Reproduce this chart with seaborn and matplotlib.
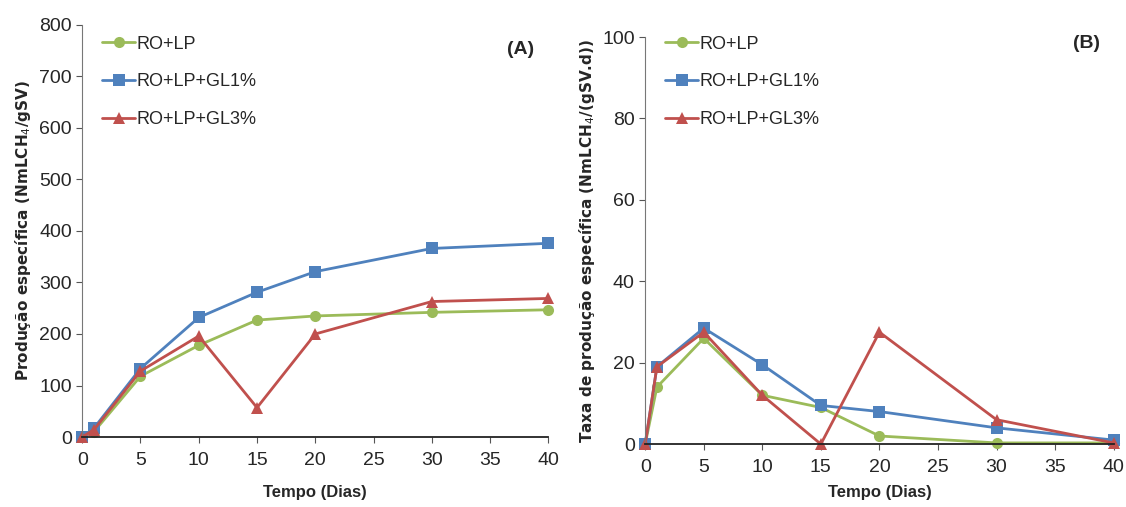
import matplotlib
matplotlib.use("Agg")
import matplotlib.pyplot as plt
import pandas as pd
import seaborn as sns

# dados
dias = [0, 1, 5, 10, 15, 20, 30, 40]
series = ["RO+LP", "RO+LP+GL1%", "RO+LP+GL3%"]

prod_ro_lp = [0, 10, 118, 178, 227, 235, 242, 247]
prod_gl1 = [0, 17, 133, 232, 281, 321, 366, 376]
prod_gl3 = [0, 14, 128, 196, 57, 200, 263, 269]

taxa_ro_lp = [0, 14, 26, 12, 9, 2, 0.3, 0.3]
taxa_gl1 = [0, 19, 28.5, 19.5, 9.5, 8, 4, 1]
taxa_gl3 = [0, 19, 27.5, 12, 0, 27.5, 6, 0.3]

cores = {"RO+LP": "#9BBB59", "RO+LP+GL1%": "#4F81BD", "RO+LP+GL3%": "#C0504D"}
marcadores = {"RO+LP": "o", "RO+LP+GL1%": "s", "RO+LP+GL3%": "^"}


def to_long(valores):
    frames = []
    for nome, vals in zip(series, valores):
        frames.append(pd.DataFrame({"dia": dias, "valor": vals, "serie": nome}))
    return pd.concat(frames, ignore_index=True)


df_a = to_long([prod_ro_lp, prod_gl1, prod_gl3])
df_b = to_long([taxa_ro_lp, taxa_gl1, taxa_gl3])

sns.set_style("white")
plt.rcParams["font.family"] = ["Liberation Sans", "DejaVu Sans"]

fig = plt.figure(figsize=(11.26, 5.07), dpi=100)
ax_a = fig.add_axes([0.073, 0.138, 0.414, 0.813])
ax_b = fig.add_axes([0.573, 0.124, 0.416, 0.803])


def desenha(ax, df, ymax, ystep, ylabel, tag, tag_y, leg_y, xpad):
    sns.lineplot(data=df, x="dia", y="valor", hue="serie", style="serie",
                 palette=cores, markers=marcadores, dashes=False,
                 markersize=8, linewidth=2, markeredgewidth=0, ax=ax)
    for ln in ax.lines:
        ln.set_clip_on(False)
    ax.set_xlim(0, 40)
    ax.set_ylim(0, ymax)
    ax.set_xticks(range(0, 41, 5))
    ax.set_yticks(range(0, ymax + 1, ystep))
    ax.tick_params(axis="both", labelsize=14, length=4, direction="out",
                   left=True, bottom=True, color="#555555")
    ax.tick_params(axis="x", pad=7)
    for s in ["top", "right"]:
        ax.spines[s].set_visible(False)
    ax.spines["left"].set_color("#777777")
    ax.spines["bottom"].set_color("#222222")
    ax.spines["bottom"].set_linewidth(1.3)
    ax.set_xlabel("Tempo (Dias)", fontsize=12, fontweight="bold", labelpad=xpad)
    ax.set_ylabel(ylabel, fontsize=11, fontweight="bold", family=["DejaVu Sans"])
    ax.text(0.97, tag_y, tag, transform=ax.transAxes, fontsize=14,
            fontweight="bold", ha="right", va="center")
    leg = ax.legend(loc="upper left", frameon=False, fontsize=13,
                    labelspacing=1.15, handlelength=1.8, handletextpad=0.1,
                    borderaxespad=0.2, bbox_to_anchor=(0.02, leg_y))
    for h in leg.legend_handles:
        h.set_markersize(8)


desenha(ax_a, df_a, 800, 100, "Produção específica (NmLCH$_4$/gSV)", "(A)", 0.94, 1.0, 11)
desenha(ax_b, df_b, 100, 20, "Taxa de produção específica (NmLCH$_4$/(gSV.d))", "(B)", 0.985, 1.03, 6)

fig.savefig("out.png", dpi=100)
